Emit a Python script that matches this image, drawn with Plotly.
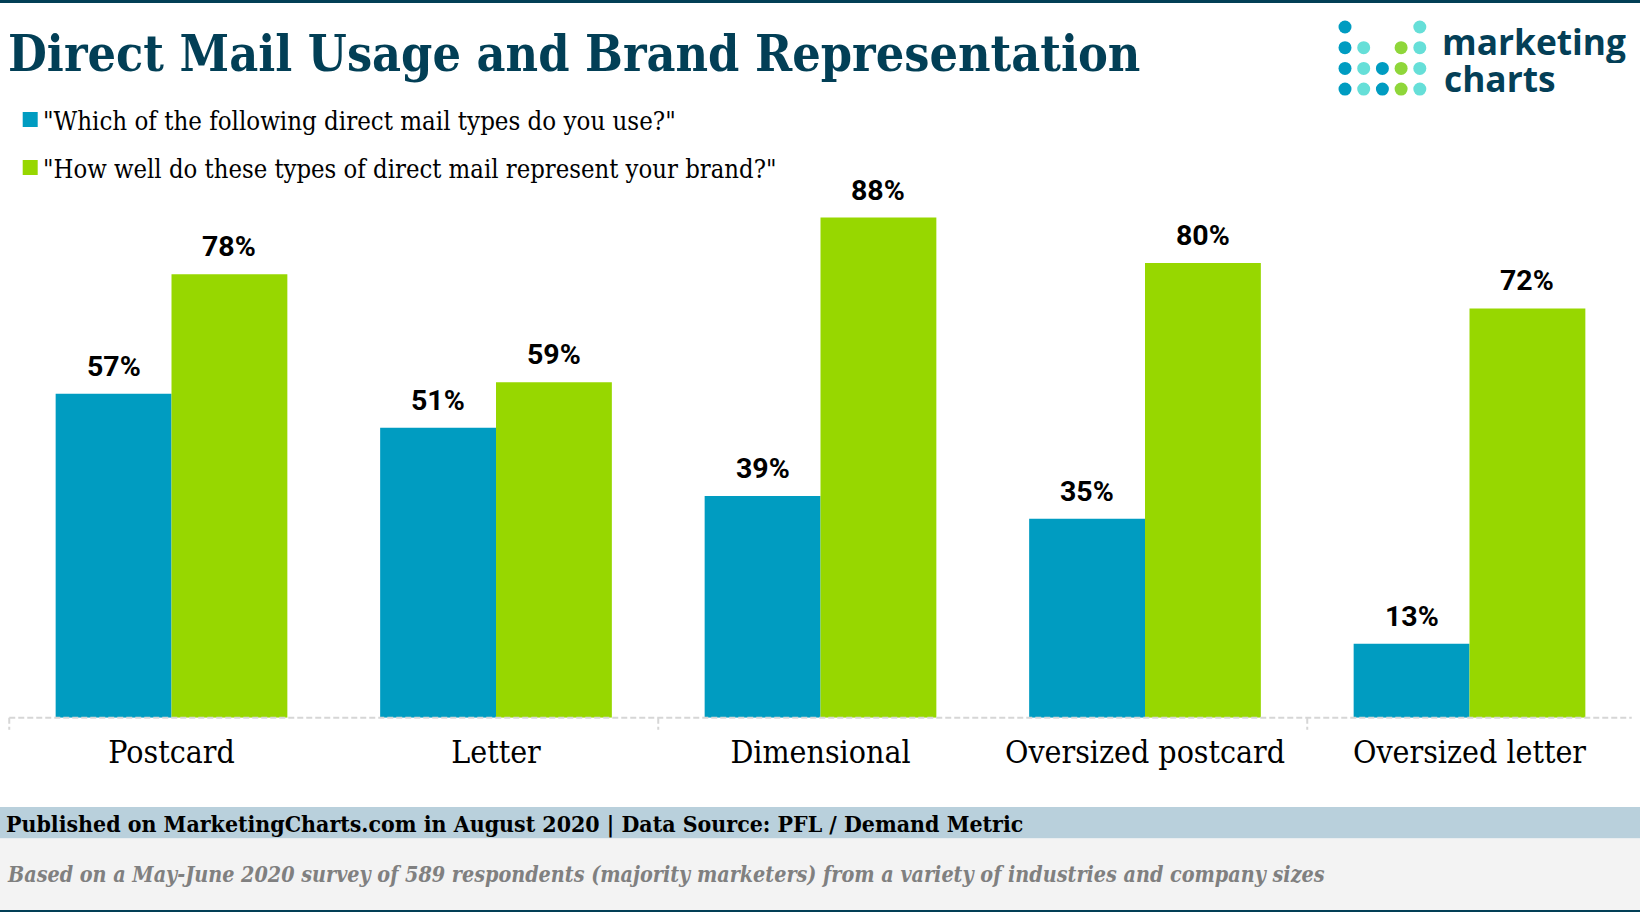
import plotly.graph_objects as go

W, H = 1640, 912
categories = ["Postcard", "Letter", "Dimensional", "Oversized postcard", "Oversized letter"]
usage = [57, 51, 39, 35, 13]
brand = [78, 59, 88, 80, 72]
series_names = ['"Which of the following direct mail types do you use?"',
                '"How well do these types of direct mail represent your brand?"']
title = "Direct Mail Usage and Brand Representation"
source = "Published on MarketingCharts.com in August 2020 | Data Source: PFL / Demand Metric"
note = "Based on a May-June 2020 survey of 589 respondents (majority marketers) from a variety of industries and company sizes"
BLUE, GREEN, NAVY = "#009cc1", "#97d700", "#023f56"
SERIF = "DejaVu Serif Condensed, DejaVu Serif, serif"

def px(x): return x / W
def py(y): return 1 - y / H

PLOT_L, PLOT_R, PLOT_T, PLOT_B = 9.25, 1631.75, 190, 717.7
PX_PER_UNIT = 5.684
ymax = (PLOT_B - PLOT_T) / PX_PER_UNIT
PITCH = (PLOT_R - PLOT_L) / len(categories)

fig = go.Figure()
BAR_W = 0.357
for name, vals, col in zip(series_names, (usage, brand), (BLUE, GREEN)):
    fig.add_bar(x=categories, y=vals, name=name, marker=dict(color=col, line_width=0))

annos, shapes = [], []
for i, (a, b) in enumerate(zip(usage, brand)):
    for v, off in ((a, -BAR_W / 2), (b, BAR_W / 2)):
        annos.append(dict(x=i + off, y=v, xref="x", yref="y", text=f"<b>{v}%</b>", showarrow=False,
                          yshift=27.5, font=dict(family="Roboto", size=28.5, color="#000")))

# axis line and ticks
AXC = "#d6d6d6"
shapes.append(dict(type="line", xref="paper", yref="paper", x0=px(PLOT_L), x1=px(PLOT_R), y0=py(PLOT_B), y1=py(PLOT_B),
                   line=dict(color=AXC, width=2, dash="6px,3px"), layer="above"))
for t in (0, 2, 4):
    xt = px(PLOT_L + t * PITCH)
    shapes.append(dict(type="line", xref="paper", yref="paper", x0=xt, x1=xt, y0=py(PLOT_B), y1=py(PLOT_B + 12),
                       line=dict(color=AXC, width=2, dash="6px,3px")))

def rect(x0, y0, x1, y1, col):
    shapes.append(dict(type="rect", xref="paper", yref="paper", x0=px(x0), x1=px(x1), y0=py(y0), y1=py(y1),
                       fillcolor=col, line_width=0, layer="below"))

def text(x, y, s, size, col="#000", fam=SERIF, **kw):
    font = dict(family=fam, size=size, color=col)
    annos.append(dict(xref="paper", yref="paper", x=px(x), y=py(y), text=s, showarrow=False, xanchor="left",
                      yanchor="middle", font=font, **kw))

rect(0, 0, W, 3, NAVY)
rect(0, 807, W, 838.5, "#b9d0dc")
rect(0, 838.5, W, 910, "#f3f3f3")
rect(0, 910, W, 912, NAVY)
rect(22.7, 112, 37.7, 127, BLUE)
rect(22.7, 160, 37.7, 175, GREEN)

text(5.5, 53.5, f"<b>{title}</b>", 49.8, NAVY)
text(41, 121, series_names[0], 25.6)
text(41, 169, series_names[1], 25.4)
text(4, 824, f"<b>{source}</b>", 22.9)
text(5, 874, f"<i><b>{note}</b></i>", 21.35, "#808080")

# logo
LC, LT, LB, LG = "#009cc1", "#66dfd8", "#009cc1", "#8fd63a"
logo = [(0, [0, 1, 2, 3], LC), (1, [1, 2, 3], LT), (2, [2, 3], LB), (3, [1, 2, 3], LG), (4, [0, 1, 2, 3], LT)]
for col_i, rows, c in logo:
    cx = 1345 + col_i * 18.7
    for r in rows:
        cy = 27 + r * 20.7
        shapes.append(dict(type="circle", xref="paper", yref="paper", x0=px(cx - 6.5), x1=px(cx + 6.5),
                           y0=py(cy - 6.5), y1=py(cy + 6.5), fillcolor=c, line_width=0))
text(1441, 41, "<b>marketing</b>", 35.3, "#043f57", "Open Sans", height=44, borderpad=0)
text(1443, 78, "<b>charts</b>", 35.3, "#043f57", "Open Sans", height=28, borderpad=0)

fig.update_layout(
    width=W, height=H, margin=dict(l=0, r=0, t=0, b=0), paper_bgcolor="#fff", plot_bgcolor="rgba(0,0,0,0)",
    barmode="group", bargap=1 - 2 * BAR_W, bargroupgap=0, showlegend=False, shapes=shapes, annotations=annos,
    xaxis=dict(domain=[px(PLOT_L), px(PLOT_R)], showgrid=False, zeroline=False, showline=False, ticks="",
               ticklabelstandoff=12, tickfont=dict(family=SERIF, size=31.8, color="#000")),
    yaxis=dict(domain=[py(PLOT_B), py(PLOT_T)], range=[0, ymax], visible=False),
)
fig.write_html("out.html", post_script="document.body.style.margin='0';", config={"displayModeBar": False})
